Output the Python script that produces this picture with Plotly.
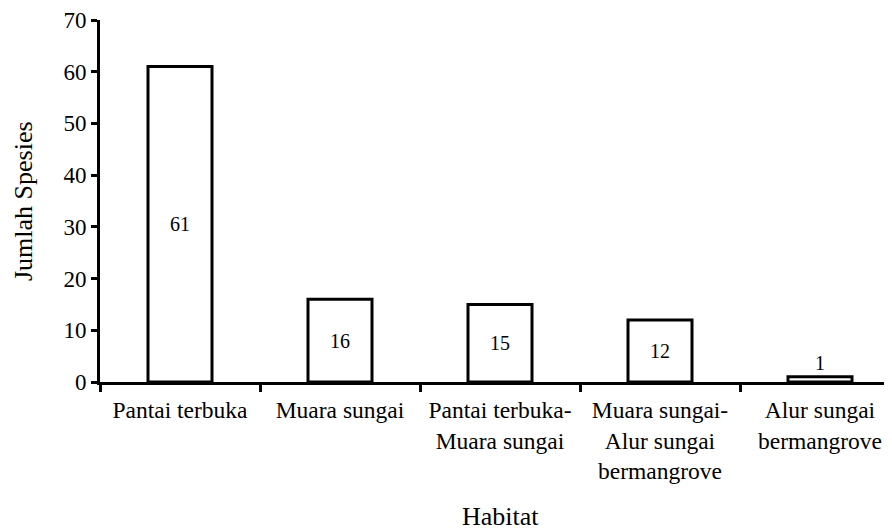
import plotly.graph_objects as go

categories = ["Pantai terbuka", "Muara sungai", "Pantai terbuka-<br>Muara sungai",
              "Muara sungai-<br>Alur sungai<br>bermangrove", "Alur sungai<br>bermangrove"]
values = [61, 16, 15, 12, 1]
labels = [str(v) for v in values]
y_ticks = [0, 10, 20, 30, 40, 50, 60, 70]
x_title = "Habitat"
y_title = "Jumlah Spesies"

FONT = "Liberation Serif, Times New Roman, serif"

fig = go.Figure(go.Bar(
    x=categories, y=values, text=labels,
    textposition=["inside", "inside", "inside", "inside", "outside"],
    insidetextanchor="middle", constraintext="none",
    textfont=dict(family=FONT, size=20, color="black"),
    marker=dict(color="white", line=dict(color="black", width=3)),
    width=0.4, cliponaxis=False,
))

# page body has an 8px margin, so figure margins are offset by 8px
fig.update_layout(
    width=892, height=531, plot_bgcolor="white", paper_bgcolor="white",
    margin=dict(l=92, r=0, t=12, b=157),
    font=dict(family=FONT, size=23, color="black"),
    showlegend=False,
)
fig.update_xaxes(
    range=[-0.5, 4.5], tickson="boundaries", ticks="outside", ticklen=7, tickwidth=3,
    tickcolor="black", showline=True, linecolor="black", linewidth=3, showgrid=False,
    tickfont=dict(family=FONT, size=23.5), tickangle=0, automargin=False,
    ticklabelstandoff=5,
)
fig.update_yaxes(
    range=[0, 70], tickvals=y_ticks, ticks="outside", ticklen=6, tickwidth=3,
    tickcolor="black", showline=True, linecolor="black", linewidth=3, showgrid=False,
    zeroline=False, tickfont=dict(family=FONT, size=23), automargin=False,
)

# axis titles
fig.add_annotation(text=x_title, xref="paper", yref="paper", x=0.5, y=0,
                   xanchor="center", yanchor="middle", yshift=-134, showarrow=False,
                   font=dict(family=FONT, size=26, color="black"))
fig.add_annotation(text=y_title, xref="paper", yref="paper", x=0, y=0.5,
                   xanchor="center", yanchor="middle", xshift=-77, textangle=-90,
                   showarrow=False, font=dict(family=FONT, size=26, color="black"))

fig.write_html("out.html")
